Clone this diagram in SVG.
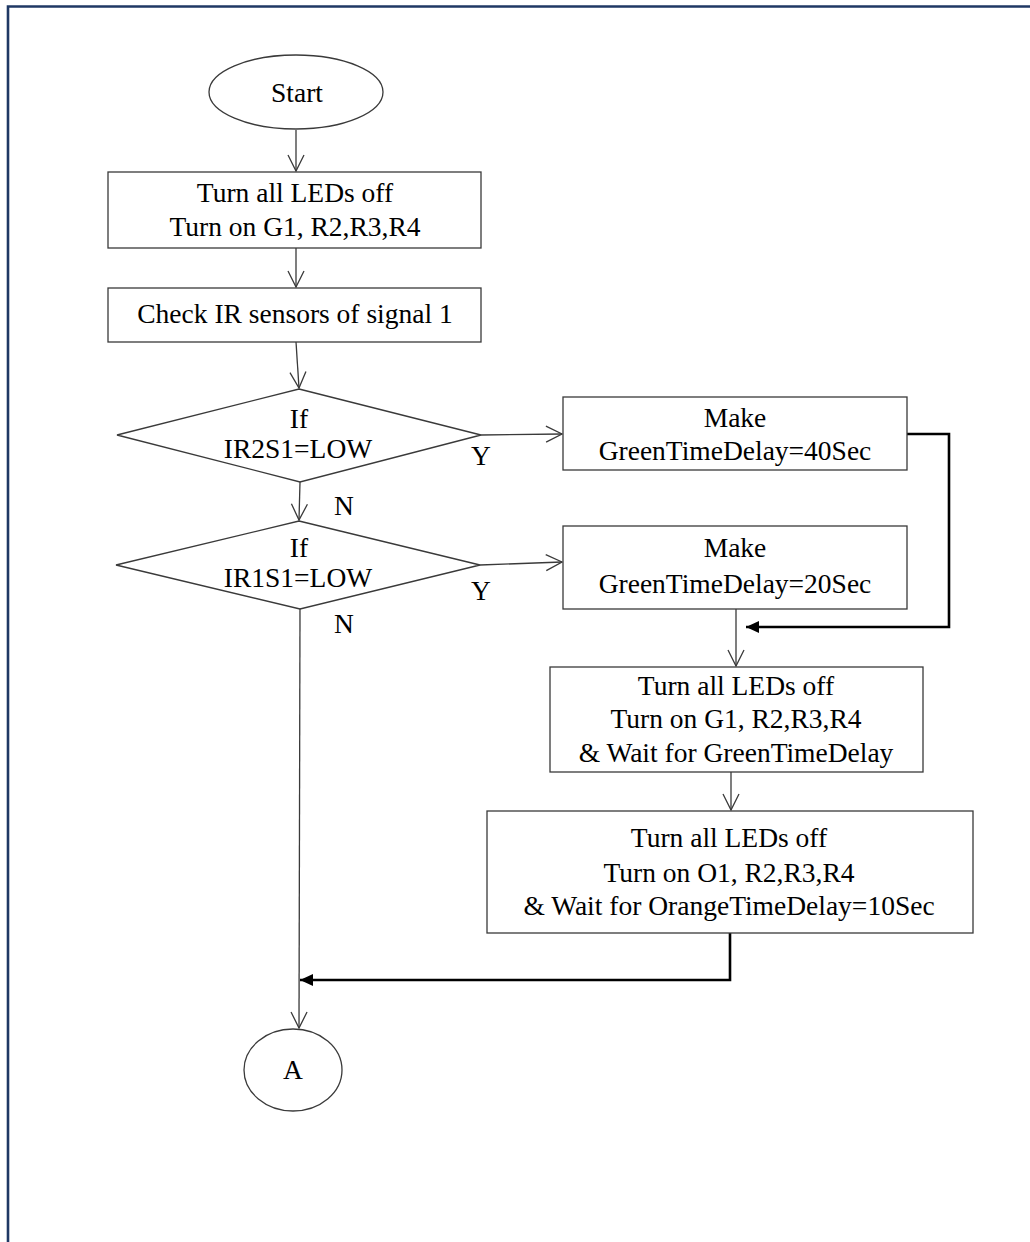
<svg xmlns="http://www.w3.org/2000/svg" width="1030" height="1242" viewBox="0 0 1030 1242">
<style>
.shape{fill:#fff;stroke:#3a3a3a;stroke-width:1.3}
.t{font-family:"Liberation Serif","Times New Roman",serif;font-size:27.5px;fill:#000;text-anchor:middle}
.thin{fill:none;stroke:#3a3a3a;stroke-width:1.3}
.thick{fill:none;stroke:#000;stroke-width:2.6}
</style>
<defs>
<marker id="open" markerUnits="userSpaceOnUse" markerWidth="20" markerHeight="20" viewBox="0 0 20 20" refX="18" refY="10" orient="auto">
<path d="M2,2 L18,10 L2,18" fill="none" stroke="#3a3a3a" stroke-width="1.3"/>
</marker>
<marker id="solid" markerUnits="userSpaceOnUse" markerWidth="16" markerHeight="16" viewBox="0 0 16 16" refX="14" refY="8" orient="auto">
<path d="M1,2 L14,8 L1,14 Z" fill="#000"/>
</marker>
</defs>
<rect width="1030" height="1242" fill="#fff"/>
<path d="M8,1242 V6.5 H1030" fill="none" stroke="#1f3864" stroke-width="2.6"/>

<g id="connectors">
<path class="thin" d="M296,130 V171" marker-end="url(#open)"/>
<path class="thin" d="M296,248 V287" marker-end="url(#open)"/>
<path class="thin" d="M296,342 L299,388" marker-end="url(#open)"/>
<path class="thin" d="M300,482 L299,520" marker-end="url(#open)"/>
<path class="thin" d="M481,435 L562,434" marker-end="url(#open)"/>
<path class="thin" d="M480,565 L562,562" marker-end="url(#open)"/>
<path class="thin" d="M736,609 V666" marker-end="url(#open)"/>
<path class="thin" d="M731,772 V810" marker-end="url(#open)"/>
<path class="thin" d="M300,609 L299,1028" marker-end="url(#open)"/>
<path class="thick" d="M907,434 H949 V627 H746" marker-end="url(#solid)"/>
<path class="thick" d="M730,933 V980 H300" marker-end="url(#solid)"/>
</g>

<g id="start">
<ellipse class="shape" cx="296" cy="92" rx="87" ry="37"/>
<text class="t" x="297" y="102">Start</text>
</g>

<g id="init">
<rect class="shape" x="108" y="172" width="373" height="76"/>
<text class="t" x="295" y="202">Turn all LEDs off</text>
<text class="t" x="295" y="236">Turn on G1, R2,R3,R4</text>
</g>

<g id="check">
<rect class="shape" x="108" y="288" width="373" height="54"/>
<text class="t" x="295" y="323">Check IR sensors of signal 1</text>
</g>

<g id="if1">
<polygon class="shape" points="299,389 481,435 300,482 117,435"/>
<text class="t" x="299" y="428">If</text>
<text class="t" x="298" y="458">IR2S1=LOW</text>
<text class="t" x="481" y="465">Y</text>
<text class="t" x="344" y="515">N</text>
</g>

<g id="if2">
<polygon class="shape" points="299,521 480,565 300,609 116,565"/>
<text class="t" x="299" y="557">If</text>
<text class="t" x="298" y="587">IR1S1=LOW</text>
<text class="t" x="481" y="600">Y</text>
<text class="t" x="344" y="633">N</text>
</g>

<g id="delay40">
<rect class="shape" x="563" y="397" width="344" height="73"/>
<text class="t" x="735" y="427">Make</text>
<text class="t" x="735" y="460">GreenTimeDelay=40Sec</text>
</g>

<g id="delay20">
<rect class="shape" x="563" y="526" width="344" height="83"/>
<text class="t" x="735" y="557">Make</text>
<text class="t" x="735" y="593">GreenTimeDelay=20Sec</text>
</g>

<g id="green">
<rect class="shape" x="550" y="667" width="373" height="105"/>
<text class="t" x="736" y="695">Turn all LEDs off</text>
<text class="t" x="736" y="728">Turn on G1, R2,R3,R4</text>
<text class="t" x="736" y="762">&amp; Wait for GreenTimeDelay</text>
</g>

<g id="orange">
<rect class="shape" x="487" y="811" width="486" height="122"/>
<text class="t" x="729" y="847">Turn all LEDs off</text>
<text class="t" x="729" y="882">Turn on O1, R2,R3,R4</text>
<text class="t" x="729" y="915">&amp; Wait for OrangeTimeDelay=10Sec</text>
</g>

<g id="connectorA">
<ellipse class="shape" cx="293" cy="1070" rx="49" ry="41"/>
<text class="t" x="293" y="1079">A</text>
</g>
</svg>
